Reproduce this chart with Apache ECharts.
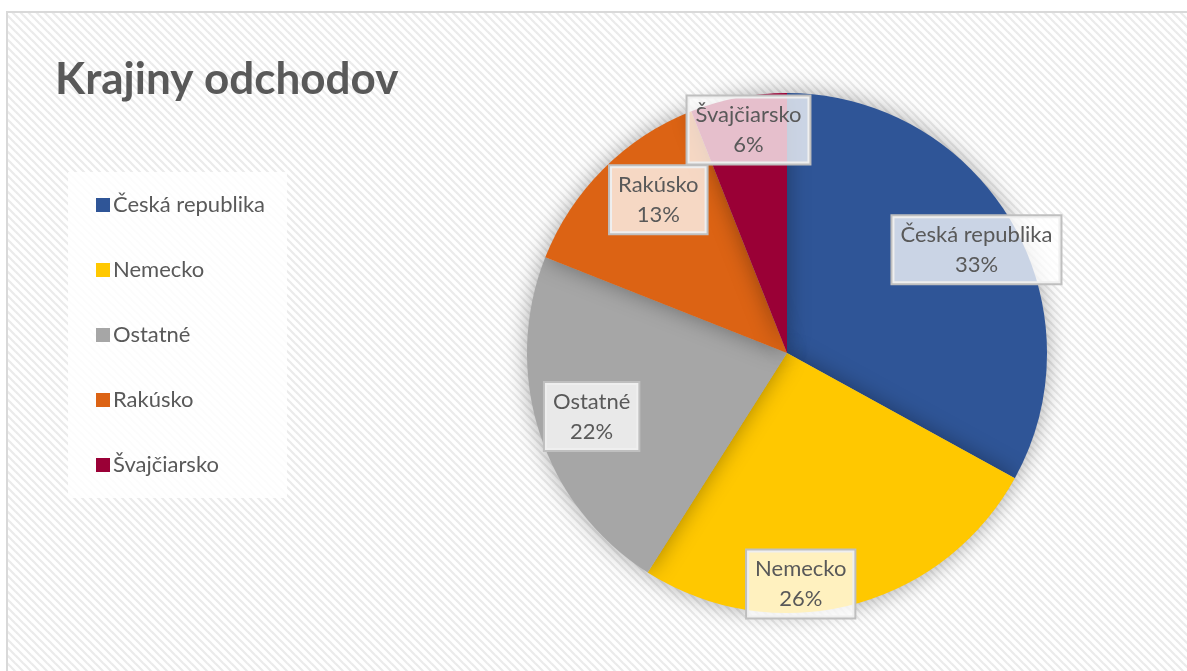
<!DOCTYPE html>
<html><head><meta charset="utf-8">
<script src="https://cdn.jsdelivr.net/npm/echarts@6/dist/echarts.min.js"></script>
<style>html,body{margin:0;padding:0;background:#fff;}#c{width:1187px;height:671px;}</style>
</head><body><div id="c"></div>
<script>
var categories = ['Česká republika', 'Nemecko', 'Ostatné', 'Rakúsko', 'Švajčiarsko'];
var values = [33, 26, 22, 13, 6];
var colors = ['#2F5597', '#FFC800', '#A6A6A6', '#DC6314', '#9A0036'];
// label placement: radial factor and angular shift (deg) per slice (style only)
var labelRadial = [0.83, 0.89, 0.79, 0.77, 0.87];
var labelShift = [2, 11, 0, 5, 1];

var CX = 787, CY = 353, R = 260;

function makePattern() {
  var c = document.createElement('canvas');
  c.width = 8; c.height = 8;
  var g = c.getContext('2d');
  g.fillStyle = '#ffffff'; g.fillRect(0, 0, 8, 8);
  g.strokeStyle = '#ebebeb'; g.lineWidth = 2.2;
  for (var k = -2; k <= 2; k++) {
    g.beginPath(); g.moveTo(k * 8 - 2, -2); g.lineTo(k * 8 + 10, 10); g.stroke();
  }
  return c;
}

var total = values.reduce(function (a, b) { return a + b; }, 0);
var font = 'Lato, "Open Sans", sans-serif';

var chart = echarts.init(document.getElementById('c'), null, {renderer: 'canvas'});
chart.setOption({
  backgroundColor: '#ffffff',
  animation: false,
  graphic: [{
    type: 'rect', z: -10, silent: true,
    shape: {x: 7, y: 12, width: 1200, height: 700},
    style: {fill: {image: makePattern(), repeat: 'repeat'}, stroke: '#d9d9d9', lineWidth: 2}
  }],
  title: {
    text: 'Krajiny odchodov', left: 50, top: 53,
    textStyle: {fontFamily: font, fontWeight: 'bold', fontSize: 44, color: '#595959'}
  },
  legend: {
    orient: 'vertical', left: 68, top: 172,
    data: categories,
    icon: 'rect', itemWidth: 14, itemHeight: 14, itemGap: 43,
    padding: [22, 22, 22, 28],
    backgroundColor: 'rgba(255,255,255,0.85)',
    textStyle: {fontFamily: font, fontSize: 22, lineHeight: 20, color: '#595959', padding: [0, 0, 0, -2]}
  },
  series: [{
    type: 'pie',
    center: [CX, CY], radius: R,
    startAngle: 90, clockwise: true,
    color: colors,
    itemStyle: {shadowBlur: 22, shadowColor: 'rgba(0,0,0,0.35)', borderWidth: 0},
    label: {
      show: true, position: 'inside',
      formatter: function (p) { return p.name + '\n' + Math.round(p.percent) + '%'; },
      fontFamily: font, fontSize: 22, lineHeight: 30, color: '#595959',
      backgroundColor: 'rgba(255,255,255,0.75)',
      borderColor: '#bfbfbf', borderWidth: 2,
      padding: [4, 8, 3, 8], align: 'center'
    },
    labelLine: {show: false},
    labelLayout: function (p) {
      var i = p.dataIndex, before = 0;
      for (var j = 0; j < i; j++) before += values[j];
      var mid = (before + values[i] / 2) / total * 360 + labelShift[i];
      var a = mid * Math.PI / 180, k = labelRadial[i] * R;
      return {x: CX + k * Math.sin(a), y: CY - k * Math.cos(a), align: 'center', verticalAlign: 'middle'};
    },
    data: categories.map(function (c, i) { return {name: c, value: values[i]}; })
  }]
});
</script></body></html>
